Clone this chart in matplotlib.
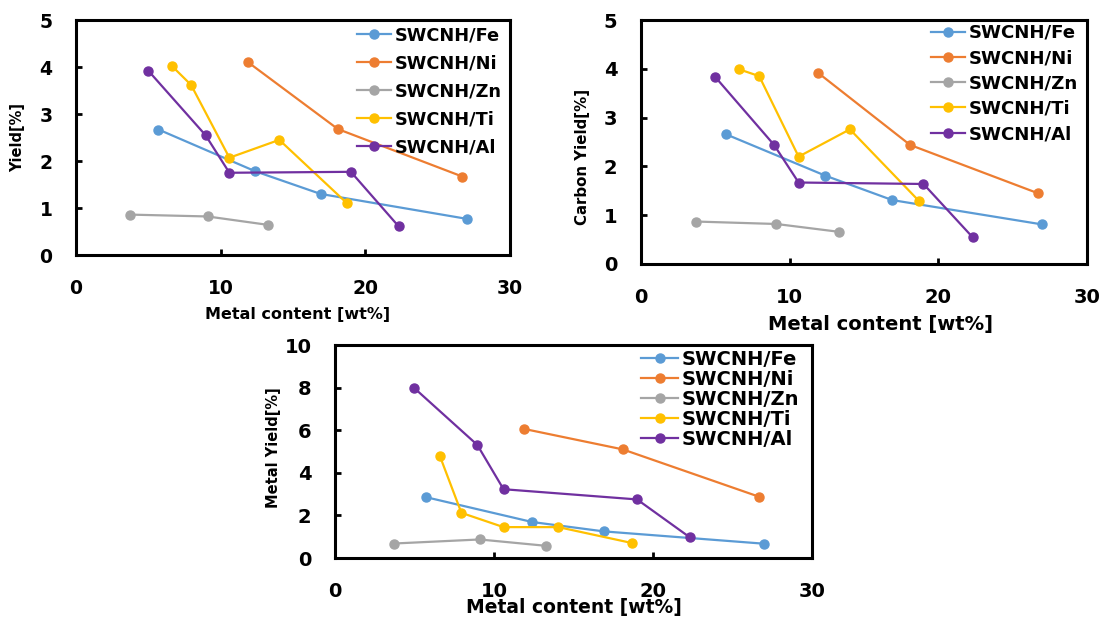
import matplotlib
matplotlib.use("Agg")
import matplotlib.pyplot as plt

plt.rcParams['font.family'] = ['DejaVu Sans']
plt.rcParams['font.weight'] = 'bold'

series_names = ["SWCNH/Fe", "SWCNH/Ni", "SWCNH/Zn", "SWCNH/Ti", "SWCNH/Al"]
colors = ["#5B9BD5", "#ED7D31", "#A5A5A5", "#FFC000", "#7030A0"]

x_fe = [5.7, 12.4, 16.9, 27.0]
x_ni = [11.9, 18.1, 26.7]
x_zn = [3.7, 9.1, 13.3]
x_ti = [6.6, 7.95, 10.6, 14.05, 18.7]
x_al = [5.0, 8.95, 10.6, 19.0, 22.3]

yield_fe = [2.67, 1.78, 1.30, 0.77]
yield_ni = [4.10, 2.68, 1.67]
yield_zn = [0.86, 0.82, 0.64]
yield_ti = [4.03, 3.62, 2.07, 2.45, 1.11]
yield_al = [3.92, 2.55, 1.75, 1.77, 0.61]

carbon_fe = [2.66, 1.81, 1.31, 0.81]
carbon_ni = [3.92, 2.44, 1.45]
carbon_zn = [0.87, 0.82, 0.66]
carbon_ti = [3.99, 3.85, 2.20, 2.76, 1.29]
carbon_al = [3.83, 2.44, 1.67, 1.64, 0.55]

metal_fe = [2.86, 1.69, 1.25, 0.67]
metal_ni = [6.06, 5.10, 2.87]
metal_zn = [0.68, 0.87, 0.57]
metal_ti = [4.78, 2.12, 1.45, 1.45, 0.70]
metal_al = [7.97, 5.31, 3.23, 2.75, 0.98]

xs = [x_fe, x_ni, x_zn, x_ti, x_al]

fig = plt.figure(figsize=(11.02, 6.2), dpi=100)

panels = [
    dict(rect=[0.069, 0.5887, 0.3938, 0.379], ys=[yield_fe, yield_ni, yield_zn, yield_ti, yield_al],
         ylim=5, yticks=[0, 1, 2, 3, 4, 5], ylabel="Yield[%]", ylab_fs=10.5, ylab_pos=(-0.118, 0.5),
         xlab_fs=11.5, xlab_pos=(0.51, -0.222), tick_fs=13.5, leg_fs=12.8, leg_sp=0.57,
         leg_anchor=(0.648, 0.974)),
    dict(rect=[0.5817, 0.5742, 0.4047, 0.3935], ys=[carbon_fe, carbon_ni, carbon_zn, carbon_ti, carbon_al],
         ylim=5, yticks=[0, 1, 2, 3, 4, 5], ylabel="Carbon Yield[%]", ylab_fs=10.8, ylab_pos=(-0.114, 0.44),
         xlab_fs=14, xlab_pos=(0.536, -0.21), tick_fs=14, leg_fs=13.1, leg_sp=0.4,
         leg_anchor=(0.65, 0.984)),
    dict(rect=[0.304, 0.1, 0.4328, 0.3435], ys=[metal_fe, metal_ni, metal_zn, metal_ti, metal_al],
         ylim=10, yticks=[0, 2, 4, 6, 8, 10], ylabel="Metal Yield[%]", ylab_fs=10.5, ylab_pos=(-0.113, 0.52),
         xlab_fs=13.5, xlab_pos=(0.5, -0.19), tick_fs=14, leg_fs=14, leg_sp=0.06,
         leg_anchor=(0.642, 0.979)),
]

for p in panels:
    ax = fig.add_axes(p["rect"])
    for name, c, x, y in zip(series_names, colors, xs, p["ys"]):
        ax.plot(x, y, color=c, lw=1.6, marker="o", ms=6.5, label=name)
    ax.set_xlim(0, 30)
    ax.set_ylim(0, p["ylim"])
    ax.set_xticks([0, 10, 20, 30])
    ax.set_yticks(p["yticks"])
    for s in ax.spines.values():
        s.set_linewidth(2.2)
        s.set_color("black")
    ax.tick_params(direction="in", length=4, width=2, labelsize=p["tick_fs"], pad=17)
    for lab in ax.get_xticklabels() + ax.get_yticklabels():
        lab.set_fontweight("bold")
    ax.set_ylabel(p["ylabel"], fontsize=p["ylab_fs"], fontweight="bold")
    ax.yaxis.set_label_coords(*p["ylab_pos"])
    ax.set_xlabel("Metal content [wt%]", fontsize=p["xlab_fs"], fontweight="bold")
    ax.xaxis.set_label_coords(*p["xlab_pos"])
    leg = ax.legend(loc="upper left", bbox_to_anchor=p["leg_anchor"], frameon=False,
                    fontsize=p["leg_fs"], handlelength=1.9, handletextpad=0.2,
                    labelspacing=p["leg_sp"], borderaxespad=0, borderpad=0)
    for t in leg.get_texts():
        t.set_fontweight("bold")

fig.savefig("out.png", dpi=100)
